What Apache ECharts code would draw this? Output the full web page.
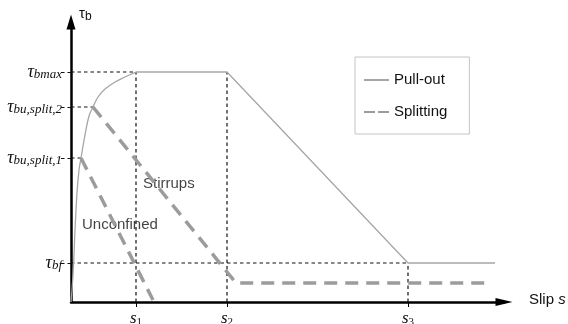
<!DOCTYPE html>
<html>
<head>
<meta charset="utf-8">
<script src="https://cdn.jsdelivr.net/npm/echarts@6/dist/echarts.min.js"></script>
<style>html,body{margin:0;padding:0;background:#fff;}#c{width:568px;height:324px;}</style>
</head>
<body>
<div id="c"></div>
<script>
// ---- data (slip in arbitrary units, bond stress in arbitrary units) ----
const slipTicks = [6.5, 15.6, 33.7];
const slipTickLabels = ['1', '2', '3'];
const tauTicks = [3.9, 14.4, 19.5, 23.0];
const tauTickLabels = ['bf', 'bu,split,1', 'bu,split,2', 'bmax'];

// ascending branch of the pull-out curve
const riseX = [0, 0.1, 0.2, 0.3, 0.4, 0.6, 0.8, 1.0, 1.4, 1.8, 2.2, 2.7, 3.4, 4.4, 5.4, 6.5];
const riseY = [0, 1.2, 2.7, 4.7, 7.2, 10.9, 13.2, 14.4, 16.7, 18.6, 19.5, 20.5, 21.3, 22.0, 22.5, 23.0];
// plateau, descending branch and residual of the pull-out curve
const restX = [6.5, 15.6, 33.7, 42.4];
const restY = [23.0, 23.0, 3.9, 3.9];

const unconfinedX = [1.0, 8.2];
const unconfinedY = [14.4, 0.2];
const stirrupsX = [2.2, 16.5, 41.6];
const stirrupsY = [19.5, 1.9, 1.9];

// reference lines: horizontal ones end at these slips, vertical ones rise to these stresses
const hLineEnds = [33.7, 1.0, 2.2, 6.5];
const vLineTops = [23.0, 23.0, 3.9];

const noteTexts = ['Stirrups', 'Unconfined'];
const noteX = [7.2, 1.1];
const noteY = [11.8, 7.7];

// ---- build ----
const zip = (xs, ys) => xs.map((x, i) => [x, ys[i]]);
const refStyle = { color: '#111', width: 1.2, type: [3.5, 3] };
const refSeries = [];
tauTicks.forEach((t, i) => refSeries.push({
  type: 'line', silent: true, symbol: 'none', lineStyle: refStyle,
  data: [[0, t], [hLineEnds[i], t]]
}));
slipTicks.forEach((s, i) => refSeries.push({
  type: 'line', silent: true, symbol: 'none', lineStyle: refStyle,
  data: [[s, 0], [s, vLineTops[i]]]
}));

const serif = 'Liberation Serif';
const sans = 'Liberation Sans';
const idx = (arr, v) => arr.findIndex(a => Math.abs(a - v) < 1e-6);
const pullStyle = { color: '#a6a6a6', width: 1.3 };
const splitStyle = { color: '#9c9c9c', width: 3.5, type: [13, 8] };

const option = {
  animation: false,
  backgroundColor: '#fff',
  grid: { left: 71, right: 64, top: 22, bottom: 22, outerBoundsMode: 'none', containLabel: false },
  legend: {
    data: [
      { name: 'Pull-out' },
      { name: 'Splitting', lineStyle: { type: [11, 3] } }
    ],
    orient: 'vertical',
    left: 355, top: 57,
    padding: [14, 22, 13, 8],
    itemGap: 14, itemWidth: 25, itemHeight: 14,
    itemStyle: { opacity: 0 },
    borderColor: '#c4c4c4', borderWidth: 1,
    textStyle: { fontFamily: sans, fontSize: 15, color: '#111', lineHeight: 18 }
  },
  xAxis: {
    type: 'value', min: 0, max: 43.3,
    name: 'Slip {i|s}', nameLocation: 'end', nameGap: 25,
    nameTextStyle: { fontFamily: sans, fontSize: 15, color: '#111', padding: [0, 0, 4, 0],
      rich: { i: { fontFamily: sans, fontStyle: 'italic', fontSize: 15, color: '#111' } } },
    axisLine: { show: true, symbol: ['none', 'triangle'], symbolSize: [8, 17],
      lineStyle: { color: '#000', width: 2.5 } },
    axisTick: { show: true, customValues: slipTicks, length: 5, lineStyle: { color: '#000', width: 1 } },
    axisLabel: {
      show: true, customValues: slipTicks, margin: 8,
      formatter: v => '{t|s}{s|' + slipTickLabels[idx(slipTicks, v)] + '}',
      rich: {
        t: { fontFamily: serif, fontStyle: 'italic', fontSize: 17, color: '#111' },
        s: { fontFamily: serif, fontSize: 11, color: '#111', padding: [7, 0, 0, 0] }
      }
    },
    splitLine: { show: false }
  },
  yAxis: {
    type: 'value', min: 0, max: 28.0,
    name: '{t|τ}{s|b}', nameLocation: 'end', nameGap: 8,
    nameTextStyle: { align: 'left', verticalAlign: 'middle', padding: [0, 0, 0, 8],
      rich: {
        t: { fontFamily: sans, fontSize: 15, color: '#111' },
        s: { fontFamily: sans, fontSize: 12, color: '#111', padding: [5, 0, 0, 0] }
      } },
    axisLine: { show: true, symbol: ['none', 'triangle'], symbolSize: [9, 15],
      lineStyle: { color: '#000', width: 2.5 } },
    axisTick: { show: true, customValues: tauTicks, length: 10,
      lineStyle: { color: '#111', width: 1.2, type: [3.5, 3] } },
    axisLabel: {
      show: true, customValues: tauTicks, margin: 9,
      formatter: v => '{t|τ}{s|' + tauTickLabels[idx(tauTicks, v)] + '}',
      rich: {
        t: { fontFamily: serif, fontStyle: 'italic', fontSize: 18, color: '#111' },
        s: { fontFamily: serif, fontStyle: 'italic', fontSize: 13, color: '#111', padding: [6, 0, 0, 0] }
      }
    },
    splitLine: { show: false }
  },
  series: [
    ...refSeries,
    {
      name: 'Pull-out', type: 'line', symbol: 'none', smooth: 0.4,
      lineStyle: pullStyle, itemStyle: { color: '#a6a6a6' },
      data: zip(riseX, riseY)
    },
    {
      name: 'Pull-out', type: 'line', symbol: 'none',
      lineStyle: pullStyle, itemStyle: { color: '#a6a6a6' },
      data: zip(restX, restY)
    },
    {
      name: 'Splitting', type: 'line', symbol: 'none',
      lineStyle: splitStyle, itemStyle: { color: '#9c9c9c' },
      data: zip(unconfinedX, unconfinedY)
    },
    {
      name: 'Splitting', type: 'line', symbol: 'none',
      lineStyle: splitStyle, itemStyle: { color: '#9c9c9c' },
      data: zip(stirrupsX, stirrupsY)
    },
    {
      type: 'scatter', silent: true, symbolSize: 0,
      label: { show: true, position: 'right', distance: 0, verticalAlign: 'middle',
        formatter: p => p.data.name,
        fontFamily: sans, fontSize: 15, color: '#111' },
      data: noteTexts.map((n, i) => ({ name: n, value: [noteX[i], noteY[i]] }))
    }
  ]
};
echarts.init(document.getElementById('c'), null, { renderer: 'canvas' }).setOption(option);
</script>
</body>
</html>
